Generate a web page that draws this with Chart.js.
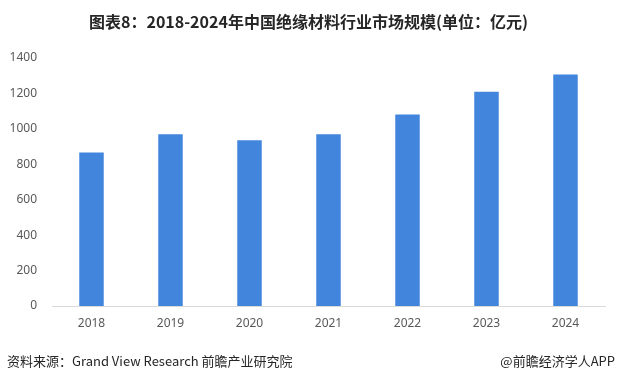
<!DOCTYPE html>
<html>
<head>
<meta charset="utf-8">
<script src="https://cdn.jsdelivr.net/npm/chart.js@4/dist/chart.umd.min.js"></script>
<style>
  html, body { margin: 0; padding: 0; background: #ffffff; }
  #wrap { position: relative; width: 617px; height: 380px; overflow: hidden; }
  #chartBox { position: absolute; left: 0; top: 0; width: 617px; height: 380px; }
  #title { position: absolute; left: 0; top: 11px; width: 617px; text-align: center;
           font-family: "Noto Sans CJK SC", sans-serif; font-weight: bold; font-size: 16px;
           color: #262626; line-height: 20px; white-space: nowrap; }
  .foot { position: absolute; top: 352px; font-family: "Noto Sans CJK SC", sans-serif;
          font-size: 13px; color: #262626; line-height: 18px; white-space: nowrap; }
  #src { left: 7px; }
  #brand { right: 2px; }
</style>
</head>
<body>
<div id="wrap">
  <div id="chartBox"><canvas id="c" width="617" height="380"></canvas></div>
  <div id="title">图表8：2018-2024年中国绝缘材料行业市场规模(单位：亿元)</div>
  <div class="foot" id="src">资料来源：Grand View Research 前瞻产业研究院</div>
  <div class="foot" id="brand">@前瞻经济学人APP</div>
</div>
<script>
const categories = ["2018", "2019", "2020", "2021", "2022", "2023", "2024"];
const marketSize = [866, 969, 935, 969, 1081, 1210, 1307];
const yTicks = [0, 200, 400, 600, 800, 1000, 1200, 1400];

new Chart(document.getElementById("c"), {
  type: "bar",
  data: {
    labels: categories,
    datasets: [{
      label: "市场规模",
      data: marketSize,
      backgroundColor: "#4285dd",
      borderWidth: 0,
      barPercentage: 0.31,
      categoryPercentage: 1.0
    }]
  },
  options: {
    responsive: false,
    animation: false,
    devicePixelRatio: 1,
    layout: { padding: { left: 0, top: 58, right: 12, bottom: 44 } },
    plugins: { legend: { display: false }, tooltip: { enabled: false }, title: { display: false } },
    scales: {
      x: {
        grid: { display: false, drawTicks: false },
        border: { display: true, color: "#d9d9d9", width: 1 },
        ticks: { color: "#595959", font: { family: "Noto Sans", size: 12 }, padding: 10 },
        afterFit: s => { s.height = 30; }
      },
      y: {
        min: 0, max: 1400,
        afterBuildTicks: s => { s.ticks = yTicks.map(v => ({ value: v })); },
        grid: { display: false, drawTicks: false },
        border: { display: false },
        ticks: { color: "#595959", font: { family: "Noto Sans", size: 12 }, padding: 15,
                 callback: v => String(v) },
        afterFit: s => { s.width = 52; }
      }
    }
  }
});
</script>
</body>
</html>
